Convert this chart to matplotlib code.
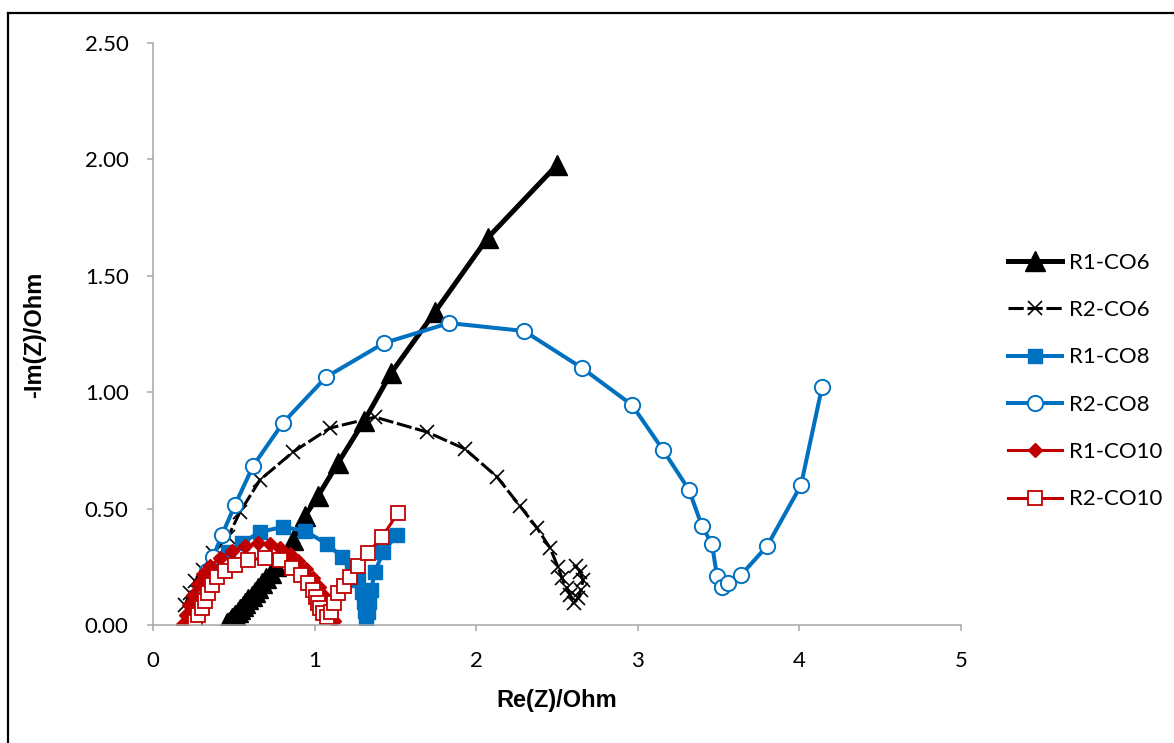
"""
Nyquist plot: R1/R2 at CO6, CO8, CO10
"""
import matplotlib
matplotlib.use("Agg")
import matplotlib.pyplot as plt
from matplotlib.lines import Line2D
from matplotlib.ticker import FormatStrFormatter

plt.rcParams["font.family"] = ["Lato", "DejaVu Sans"]

# ── data (Re(Z), -Im(Z)) in Ohm ─────────────────────────────────
r1_co6_x = [0.45, 0.455, 0.46, 0.47, 0.48, 0.49, 0.50, 0.51, 0.525, 0.54, 0.555,
            0.57, 0.59, 0.61, 0.63, 0.65, 0.675, 0.70, 0.73, 0.76, 0.80,
            0.866, 0.941, 1.021, 1.145, 1.306, 1.473, 1.745, 2.07, 2.50]
r1_co6_y = [0.0, 0.003, 0.007, 0.013, 0.02, 0.028, 0.036, 0.045, 0.056, 0.068, 0.08,
            0.095, 0.11, 0.125, 0.14, 0.16, 0.18, 0.20, 0.225, 0.255, 0.30,
            0.365, 0.468, 0.554, 0.696, 0.876, 1.082, 1.345, 1.662, 1.976]

r2_co6_x = [0.198, 0.229, 0.26, 0.309, 0.371, 0.464, 0.538, 0.662, 0.866, 1.095,
            1.374, 1.696, 1.931, 2.129, 2.271, 2.376, 2.457, 2.506, 2.531, 2.562,
            2.58, 2.605, 2.63, 2.648, 2.661, 2.642, 2.618]
r2_co6_y = [0.086, 0.137, 0.189, 0.236, 0.309, 0.378, 0.485, 0.623, 0.743, 0.846,
            0.893, 0.829, 0.756, 0.636, 0.511, 0.417, 0.331, 0.249, 0.202, 0.159,
            0.129, 0.095, 0.116, 0.150, 0.193, 0.228, 0.253]

r1_co8_x = [0.384, 0.464, 0.551, 0.662, 0.804, 0.941, 1.077, 1.170, 1.231, 1.269,
            1.293, 1.306, 1.312, 1.318, 1.33, 1.337, 1.349, 1.374, 1.423, 1.51]
r1_co8_y = [0.258, 0.314, 0.352, 0.40, 0.421, 0.404, 0.348, 0.292, 0.245, 0.193,
            0.142, 0.099, 0.06, 0.026, 0.056, 0.099, 0.150, 0.228, 0.314, 0.387]

r2_co8_x = [0.248, 0.272, 0.303, 0.334, 0.371, 0.427, 0.507, 0.619, 0.804, 1.071,
            1.429, 1.832, 2.296, 2.655, 2.964, 3.156, 3.317, 3.397, 3.459, 3.49,
            3.521, 3.558, 3.639, 3.80, 4.01, 4.14]
r2_co8_y = [0.043, 0.107, 0.172, 0.232, 0.292, 0.387, 0.515, 0.683, 0.868, 1.065,
            1.211, 1.297, 1.263, 1.104, 0.945, 0.752, 0.580, 0.425, 0.348, 0.21,
            0.163, 0.18, 0.215, 0.339, 0.601, 1.022]

r1_co10_x = [0.186, 0.204, 0.223, 0.248, 0.278, 0.309, 0.353, 0.415, 0.489, 0.569,
             0.650, 0.724, 0.786, 0.848, 0.897, 0.947, 0.990, 1.027, 1.058, 1.083,
             1.101, 1.120]
r1_co10_y = [0.004, 0.043, 0.086, 0.129, 0.176, 0.219, 0.253, 0.288, 0.318, 0.339,
             0.352, 0.348, 0.331, 0.305, 0.275, 0.241, 0.202, 0.163, 0.125, 0.086,
             0.052, 0.017]

r2_co10_x = [0.260, 0.278, 0.303, 0.322, 0.340, 0.365, 0.396, 0.446, 0.507, 0.588,
             0.693, 0.786, 0.860, 0.916, 0.959, 0.990, 1.009, 1.021, 1.033, 1.052,
             1.077, 1.101, 1.120, 1.145, 1.182, 1.219, 1.269, 1.330, 1.417, 1.516]
r2_co10_y = [0.013, 0.043, 0.073, 0.103, 0.137, 0.172, 0.206, 0.232, 0.258, 0.279,
             0.288, 0.279, 0.245, 0.215, 0.180, 0.150, 0.120, 0.095, 0.073, 0.052,
             0.034, 0.056, 0.095, 0.137, 0.168, 0.206, 0.253, 0.309, 0.378, 0.481]

x_ticks = [0, 1, 2, 3, 4, 5]
y_ticks = [0.0, 0.5, 1.0, 1.5, 2.0, 2.5]

# ── colours ─────────────────────────────────────────────────────
C_BLACK = "#000000"
C_BLUE = "#0070C0"
C_RED = "#C00000"
C_AXIS = "#A6A6A6"

W, H = 1174, 743
fig = plt.figure(figsize=(W / 100, H / 100), dpi=100)
fig.patch.set_facecolor("white")
ax = fig.add_axes([153 / W, 1 - 625 / H, 808 / W, 582 / H])

ax.plot(r1_co6_x, r1_co6_y, color=C_BLACK, lw=3.6, marker="^", ms=14,
        mfc=C_BLACK, mec=C_BLACK, label="R1-CO6")
ax.plot(r2_co6_x, r2_co6_y, color=C_BLACK, lw=2.2, ls=(0, (5, 1.2)), marker="x",
        ms=10, mew=1.2, mec=C_BLACK, label="R2-CO6")
ax.plot(r1_co8_x, r1_co8_y, color=C_BLUE, lw=2.9, marker="s", ms=10,
        mfc=C_BLUE, mec=C_BLUE, label="R1-CO8")
ax.plot(r2_co8_x, r2_co8_y, color=C_BLUE, lw=2.9, marker="o", ms=11,
        mfc="white", mec=C_BLUE, mew=1.4, label="R2-CO8")
ax.plot(r1_co10_x, r1_co10_y, color=C_RED, lw=2.2, marker="D", ms=7,
        mfc=C_RED, mec=C_RED, label="R1-CO10")
ax.plot(r2_co10_x, r2_co10_y, color=C_RED, lw=2.2, marker="s", ms=10,
        mfc="white", mec=C_RED, mew=1.3, label="R2-CO10")

ax.set_xlim(0, 5)
ax.set_ylim(0, 2.5)
ax.set_xticks(x_ticks)
ax.set_yticks(y_ticks)
ax.yaxis.set_major_formatter(FormatStrFormatter("%.2f"))
for s in ["top", "right"]:
    ax.spines[s].set_visible(False)
for s in ["left", "bottom"]:
    ax.spines[s].set_color(C_AXIS)
    ax.spines[s].set_linewidth(1.1)
ax.tick_params(axis="both", direction="out", length=4.5, width=1.1,
               color=C_AXIS, labelsize=16, labelcolor="black")
ax.tick_params(axis="y", pad=13)
ax.tick_params(axis="x", pad=14)
for lab in ax.get_xticklabels() + ax.get_yticklabels():
    lab.set_clip_on(False)

# axis titles, bold
lbl_font = dict(fontsize=17, fontweight="bold", family=["Liberation Sans", "DejaVu Sans"])
fig.text(557 / W, 1 - 700 / H, "Re(Z)/Ohm", ha="center", va="center", **lbl_font)
fig.text(35 / W, 1 - 335 / H, "-Im(Z)/Ohm", ha="center", va="center",
         rotation=90, **lbl_font)

fig.legend(loc="center left", bbox_to_anchor=(1008 / W, 1 - 381 / H),
           frameon=False, fontsize=16, handlelength=2.45, handletextpad=0.3,
           labelspacing=1.23, borderpad=0, borderaxespad=0)

# outer frame (left and top edges visible)
fig.add_artist(Line2D([8 / W, 8 / W], [0, 1 - 13 / H], transform=fig.transFigure,
                      color="black", lw=1.6))
fig.add_artist(Line2D([8 / W, 1], [1 - 13 / H, 1 - 13 / H], transform=fig.transFigure,
                      color="black", lw=1.6))

fig.savefig("out.png", dpi=100, facecolor="white")
